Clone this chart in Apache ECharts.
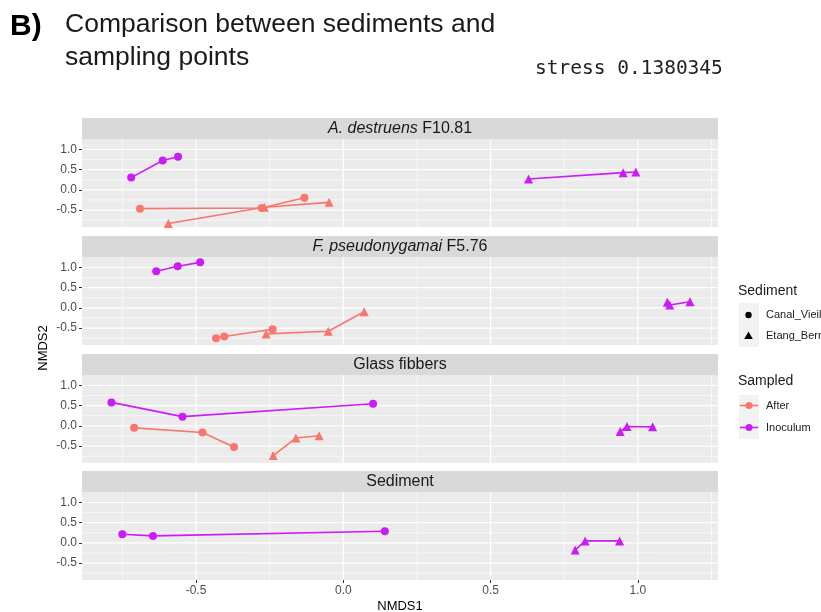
<!DOCTYPE html>
<html>
<head>
<meta charset="utf-8">
<script src="https://cdn.jsdelivr.net/npm/echarts@6/dist/echarts.min.js"></script>
<style>
html,body{margin:0;padding:0;background:#fff;}
#chart{width:821px;height:612px;}
</style>
</head>
<body>
<div id="chart"></div>
<script>
// ---- data ----
const panelNames = ['A. destruens F10.81', 'F. pseudonygamai F5.76', 'Glass fibbers', 'Sediment'];
const panelRich = ['{i|A. destruens} F10.81', '{i|F. pseudonygamai} F5.76', 'Glass fibbers', 'Sediment'];
const xTicks = [-0.5, 0.0, 0.5, 1.0];
const xMinor = [-0.75, -0.25, 0.25, 0.75, 1.25];
const yTicks = [-0.5, 0.0, 0.5, 1.0];
const yMinor = [-0.75, -0.25, 0.25, 0.75];
const sampledLevels = ['After', 'Inoculum'];
const sedimentLevels = ['Canal_Vieil', 'Etang_Berr'];

// panel 1: A. destruens F10.81
const p1AfterCanal = [[-0.690, -0.466], [-0.277, -0.449], [-0.132, -0.196]];
const p1AfterEtang = [[-0.594, -0.833], [-0.268, -0.431], [-0.048, -0.309]];
const p1InocCanal = [[-0.720, 0.304], [-0.613, 0.728], [-0.561, 0.819]];
const p1InocEtang = [[0.629, 0.270], [0.950, 0.426], [0.993, 0.441]];
// panel 2: F. pseudonygamai F5.76
const p2AfterCanal = [[-0.432, -0.750], [-0.404, -0.711], [-0.240, -0.529]];
const p2AfterEtang = [[-0.262, -0.645], [-0.051, -0.578], [0.071, -0.098]];
const p2InocCanal = [[-0.635, 0.907], [-0.562, 1.029], [-0.486, 1.127]];
const p2InocEtang = [[1.100, 0.140], [1.108, 0.070], [1.177, 0.150]];
// panel 3: Glass fibbers
const p3AfterCanal = [[-0.710, -0.049], [-0.478, -0.164], [-0.371, -0.522]];
const p3AfterEtang = [[-0.238, -0.735], [-0.161, -0.301], [-0.082, -0.245]];
const p3InocCanal = [[-0.787, 0.581], [-0.546, 0.228], [0.101, 0.547]];
const p3InocEtang = [[0.940, -0.140], [0.963, -0.017], [1.050, -0.025]];
// panel 4: Sediment
const p4InocCanal = [[-0.750, 0.213], [-0.646, 0.172], [0.141, 0.287]];
const p4InocEtang = [[0.787, -0.179], [0.821, 0.049], [0.938, 0.049]];

// ---- layout / style ----
const COL_AFTER = '#F8766D';
const COL_INOC = '#CC1CF5';
const gridLeft = 82, gridWidth = 636, gridH = 88;
const gridTops = [139, 257, 375, 492];
const stripH = 21;
const X_MIN = -0.887, X_MAX = 1.272, Y_MIN = -0.92, Y_MAX = 1.26;
const FONT = '"Liberation Sans", Arial, sans-serif';

const panelGroups = [
  [[p1AfterCanal, 'After', 'circle'], [p1AfterEtang, 'After', 'triangle'], [p1InocCanal, 'Inoculum', 'circle'], [p1InocEtang, 'Inoculum', 'triangle']],
  [[p2AfterCanal, 'After', 'circle'], [p2AfterEtang, 'After', 'triangle'], [p2InocCanal, 'Inoculum', 'circle'], [p2InocEtang, 'Inoculum', 'triangle']],
  [[p3AfterCanal, 'After', 'circle'], [p3AfterEtang, 'After', 'triangle'], [p3InocCanal, 'Inoculum', 'circle'], [p3InocEtang, 'Inoculum', 'triangle']],
  [[p4InocCanal, 'Inoculum', 'circle'], [p4InocEtang, 'Inoculum', 'triangle']]
];

const grids = [], xAxes = [], yAxes = [], series = [], graphics = [];

function gridLineData() {
  const d = [];
  xMinor.forEach(v => d.push([v, 0, 0, 0]));
  yMinor.forEach(v => d.push([0, v, 1, 0]));
  xTicks.forEach(v => d.push([v, 0, 0, 1]));
  yTicks.forEach(v => d.push([0, v, 1, 1]));
  return d;
}

gridTops.forEach((top, i) => {
  const last = i === gridTops.length - 1;
  grids.push({left: gridLeft, top: top, width: gridWidth, height: gridH, show: true,
    backgroundColor: '#EBEBEB', borderWidth: 0, containLabel: false});
  xAxes.push({type: 'value', gridIndex: i, min: X_MIN, max: X_MAX, position: 'bottom',
    axisLine: {show: false, onZero: false}, splitLine: {show: false},
    axisTick: {show: last, length: 3, customValues: xTicks, lineStyle: {color: '#333333', width: 1}},
    axisLabel: {show: last, customValues: xTicks, margin: 5, color: '#4D4D4D', fontSize: 12, fontFamily: FONT,
      formatter: v => v.toFixed(1)}
  });
  yAxes.push({type: 'value', gridIndex: i, min: Y_MIN, max: Y_MAX, position: 'left',
    axisLine: {show: false, onZero: false}, splitLine: {show: false},
    axisTick: {show: true, length: 3, customValues: yTicks, lineStyle: {color: '#333333', width: 1}},
    axisLabel: {show: true, customValues: yTicks, margin: 5, color: '#4D4D4D', fontSize: 12, fontFamily: FONT,
      formatter: v => v.toFixed(1)}
  });
  // gridlines through the axis scale
  series.push({type: 'custom', xAxisIndex: i, yAxisIndex: i, z: 1, silent: true,
    data: gridLineData(),
    renderItem: function (params, api) {
      const cs = params.coordSys;
      const dir = api.value(2), major = api.value(3);
      const p = api.coord([api.value(0), api.value(1)]);
      let shape;
      if (dir === 0) shape = {x1: p[0], y1: cs.y, x2: p[0], y2: cs.y + cs.height};
      else shape = {x1: cs.x, y1: p[1], x2: cs.x + cs.width, y2: p[1]};
      return {type: 'line', shape: shape,
        style: {stroke: '#FFFFFF', lineWidth: major ? 1.2 : 0.6}};
    }
  });
  panelGroups[i].forEach(g => {
    const col = g[1] === 'After' ? COL_AFTER : COL_INOC;
    series.push({type: 'line', xAxisIndex: i, yAxisIndex: i, z: 3, data: g[0],
      symbol: g[2], symbolSize: g[2] === 'circle' ? 8 : 9, showSymbol: true,
      lineStyle: {color: col, width: 1.6}, itemStyle: {color: col},
      emphasis: {disabled: true}});
  });
  // facet strip
  graphics.push({type: 'rect', shape: {x: gridLeft, y: top - stripH, width: gridWidth, height: stripH},
    style: {fill: '#D9D9D9'}, silent: true});
  graphics.push({type: 'text', x: gridLeft + gridWidth / 2, y: top - stripH / 2,
    style: {text: panelRich[i], fill: '#1A1A1A', font: '16px ' + FONT, align: 'center', verticalAlign: 'middle',
      rich: {i: {fontStyle: 'italic', fontSize: 16, fontFamily: 'Liberation Sans', fill: '#1A1A1A'}}}});
});

// titles
graphics.push({type: 'text', x: 10, y: 27, style: {text: 'B)', font: 'bold 30px ' + FONT, fill: '#000', verticalAlign: 'middle'}});
graphics.push({type: 'text', x: 65, y: 25, style: {text: 'Comparison between sediments and', font: '26.5px ' + FONT, fill: '#1a1a1a', verticalAlign: 'middle'}});
graphics.push({type: 'text', x: 65, y: 58, style: {text: 'sampling points', font: '26.5px ' + FONT, fill: '#1a1a1a', verticalAlign: 'middle'}});
graphics.push({type: 'text', x: 535, y: 69, style: {text: 'stress 0.1380345', font: '19.5px "DejaVu Sans Mono", monospace', fill: '#222', verticalAlign: 'middle'}});
// axis titles
graphics.push({type: 'text', x: gridLeft + gridWidth / 2, y: 606, style: {text: 'NMDS1', font: '13px ' + FONT, fill: '#000', align: 'center', verticalAlign: 'middle'}});
graphics.push({type: 'text', x: 43, y: 348, rotation: Math.PI / 2, style: {text: 'NMDS2', font: '13px ' + FONT, fill: '#000', align: 'center', verticalAlign: 'middle'}});

// legend: Sediment
graphics.push({type: 'text', x: 738, y: 291, style: {text: 'Sediment', font: '14px ' + FONT, fill: '#1a1a1a', verticalAlign: 'middle'}});
graphics.push({type: 'rect', shape: {x: 739, y: 303, width: 20, height: 44}, style: {fill: '#F2F2F2'}});
graphics.push({type: 'circle', shape: {cx: 748.5, cy: 315, r: 3.2}, style: {fill: '#000'}});
graphics.push({type: 'polygon', shape: {points: [[748.5, 331.5], [752.8, 339], [744.2, 339]]}, style: {fill: '#000'}});
sedimentLevels.forEach((s, k) => {
  graphics.push({type: 'text', x: 766, y: 315 + k * 21, style: {text: s, font: '11px ' + FONT, fill: '#1a1a1a', verticalAlign: 'middle'}});
});
// legend: Sampled
graphics.push({type: 'text', x: 738, y: 381, style: {text: 'Sampled', font: '14px ' + FONT, fill: '#1a1a1a', verticalAlign: 'middle'}});
graphics.push({type: 'rect', shape: {x: 739, y: 395, width: 20, height: 44}, style: {fill: '#F2F2F2'}});
sampledLevels.forEach((s, k) => {
  const cy = 405.5 + k * 22;
  const col = k === 0 ? COL_AFTER : COL_INOC;
  graphics.push({type: 'line', shape: {x1: 740, y1: cy, x2: 758, y2: cy}, style: {stroke: col, lineWidth: 1.6}});
  graphics.push({type: 'circle', shape: {cx: 749, cy: cy, r: 3.5}, style: {fill: col}});
  graphics.push({type: 'text', x: 766, y: cy, style: {text: s, font: '11px ' + FONT, fill: '#1a1a1a', verticalAlign: 'middle'}});
});

const chart = echarts.init(document.getElementById('chart'), null, {renderer: 'canvas'});
chart.setOption({
  animation: false,
  backgroundColor: '#FFFFFF',
  grid: grids, xAxis: xAxes, yAxis: yAxes, series: series,
  graphic: graphics
});
</script>
</body>
</html>
